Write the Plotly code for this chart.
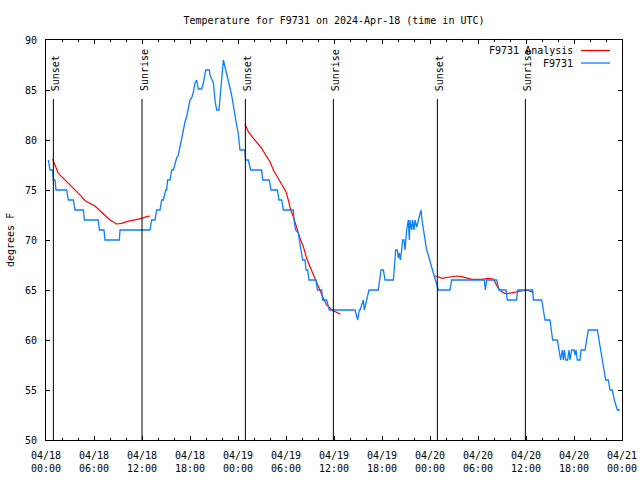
import plotly.graph_objects as go

# ---- data (hours since 2024-04-18 00:00 UTC) ----
obs_hours = [0.29, 0.5, 0.83, 0.92, 1.125, 1.25, 2.58, 2.79, 3.42, 3.625, 4.67, 4.79, 6.54, 6.67, 7.25, 7.375,
             9.17, 9.25, 13.0, 13.2, 13.625, 13.83, 14.25, 14.46, 14.67, 14.96, 15.08, 15.2, 15.5, 15.71, 15.92,
             16.125, 16.33, 16.54, 16.75, 16.96, 17.17, 17.375, 17.58, 17.79, 18.0, 18.21, 18.42, 18.625, 18.83,
             19.04, 19.46, 19.67, 19.875, 19.96, 20.42, 20.5, 20.71, 20.92, 21.125, 21.33, 21.625, 21.75, 21.96,
             22.17, 22.375, 22.58, 22.79, 23.0, 23.2, 23.42, 23.625, 23.83, 24.04, 24.125, 24.25, 24.85, 24.95,
             25.29, 25.58, 26.96, 27.08, 27.92, 28.125, 28.92, 29.125, 29.46, 29.67, 30.92, 31.0, 31.2, 31.54,
             31.67, 31.875, 32.08, 32.375, 32.5, 32.71, 32.875, 33.75, 33.92, 34.46, 34.58, 35.08, 35.42, 38.625,
             38.96, 39.17, 39.25, 39.46, 39.67, 39.79, 39.96, 40.08, 40.375, 41.54, 41.75, 41.875, 42.17, 42.375,
             43.42, 43.625, 43.71, 43.92, 44.04, 44.17, 44.29, 44.46, 44.58, 44.75, 44.875, 45.08, 45.29, 45.42,
             45.5, 45.71, 45.83, 46.0, 46.125, 46.33, 46.54, 46.75, 46.875, 47.0, 47.17, 47.375, 47.58, 47.79,
             48.0, 48.2, 48.42, 48.7, 49.05, 50.5, 50.71, 54.79, 54.92, 55.08, 56.33, 56.625, 57.5, 57.67, 58.83,
             58.96, 60.83, 60.92, 61.96, 62.17, 62.375, 63.0, 63.2, 63.33, 63.92, 64.125, 64.33, 64.54, 64.67,
             64.79, 64.96, 65.2, 65.375, 65.5, 65.71, 66.0, 66.125, 66.25, 66.42, 66.75, 66.875, 67.375, 67.58,
             67.79, 68.92, 69.125, 69.33, 69.54, 69.75, 69.96, 70.29, 70.5, 70.79, 71.04, 71.42, 71.75]
obs_temps = [78, 77, 77, 76, 76, 75, 75, 74, 74, 73, 73, 72, 72, 71, 71, 70,
             70, 71, 71, 72, 72, 73, 73, 74, 74, 75, 75, 76, 76, 77, 77,
             77.7, 78.2, 78.5, 79.4, 80.3, 81.3, 81.8, 82.3, 83, 84, 84.2, 84.8, 85.7, 86,
             85.1, 85.1, 85.7, 86.5, 87, 87, 86.5, 86.1, 85.7, 84, 83, 83, 84, 86.3,
             88, 87.3, 86.5, 86, 85.2, 84.5, 83.3, 82.3, 81.5, 80.6, 80, 79, 79, 78,
             78, 77, 77, 76, 76, 75, 75, 74, 74, 73, 73, 72, 71, 70.7,
             70, 69, 68, 68, 67, 67, 66, 66, 65, 65, 64, 64, 63, 63,
             62, 63, 63, 63.5, 64, 63, 63.5, 64, 65, 65, 66, 67, 67, 66,
             66, 68, 69, 69, 68.2, 68.7, 68, 69, 70, 70, 69, 71, 72, 70,
             72, 71, 72, 71, 72, 71.3, 72, 72.7, 73, 72, 71, 70, 69, 68.5,
             68, 67.3, 66.7, 66, 65, 65, 66, 66, 65, 66, 66, 65, 65, 64, 64,
             65, 65, 64, 64, 63, 62, 62, 61, 60, 60, 59, 58, 59, 58,
             59, 58, 58, 59, 58, 59, 59, 58.5, 59, 58, 58, 59, 59, 60,
             61, 61, 60, 59, 58, 57, 56, 56, 55, 55, 54, 53, 53]

ana_hours = [0.83, 1.125, 1.54, 1.96, 2.375, 2.79, 3.21, 3.625, 4.04, 4.46, 4.875, 5.5, 6.125, 6.75, 7.375,
             8.0, 8.83, 9.46, 10.08, 10.71, 11.33, 11.96, 12.58, 13.0, None,
             24.875, 25.29, 25.83, 26.33, 26.96, 27.58, 28.0, 28.42, 28.83, 29.25, 29.67, 30.0, 30.29, 30.58,
             30.92, 31.33, 31.75, 32.17, 32.58, 33.0, 33.42, 33.83, 34.25, 34.67, 35.08, 35.5, 35.92, 36.33,
             36.83, None,
             48.625, 49.04, 49.46, 50.29, 51.33, 51.96, 52.58, 53.21, 54.46, 55.29, 55.92, 56.25, 56.54, 56.96,
             57.375, 57.79, 58.21, 58.83, 59.46, 60.08, 60.71, 60.92]
ana_temps = [78.07, 77.5, 76.67, 76.33, 76.0, 75.67, 75.4, 75.0, 74.73, 74.33, 73.93, 73.67, 73.4, 72.93, 72.5,
             72.0, 71.6, 71.67, 71.83, 71.93, 72.07, 72.17, 72.33, 72.4, None,
             81.6, 80.83, 80.27, 79.73, 79.17, 78.33, 77.83, 77.0, 76.4, 75.83, 75.17, 74.83, 74.0, 73.0,
             72.33, 71.17, 70.17, 69.33, 68.17, 67.33, 66.5, 65.67, 64.83, 64.17, 63.5, 63.17, 62.9, 62.77,
             62.57, None,
             66.4, 66.33, 66.17, 66.27, 66.4, 66.33, 66.17, 66.07, 66.07, 66.17, 66.1, 65.67, 65.17, 64.83,
             64.67, 64.67, 64.73, 64.83, 64.93, 65.0, 64.83, 64.67]

event_hours = [0.92, 12.0, 24.92, 35.92, 48.92, 59.92]
event_labels = ["Sunset", "Sunrise", "Sunset", "Sunrise", "Sunset", "Sunrise"]

tick_hours = [0, 6, 12, 18, 24, 30, 36, 42, 48, 54, 60, 66, 72]
tick_labels = ["04/18<br>00:00", "04/18<br>06:00", "04/18<br>12:00", "04/18<br>18:00",
               "04/19<br>00:00", "04/19<br>06:00", "04/19<br>12:00", "04/19<br>18:00",
               "04/20<br>00:00", "04/20<br>06:00", "04/20<br>12:00", "04/20<br>18:00",
               "04/21<br>00:00"]

series_names = ["F9731 Analysis", "F9731"]
series_colors = ["#ff0000", "#0a80ff"]

FONT = dict(family="DejaVu Sans Mono", size=10, color="black")

fig = go.Figure()
fig.add_trace(go.Scatter(x=ana_hours, y=ana_temps, mode="lines", name=series_names[0],
                         line=dict(color=series_colors[0], width=1.2), connectgaps=False,
                         showlegend=False))
fig.add_trace(go.Scatter(x=obs_hours, y=obs_temps, mode="lines", name=series_names[1],
                         line=dict(color=series_colors[1], width=1.3), showlegend=False))

# sunrise / sunset markers
for h, lab in zip(event_hours, event_labels):
    fig.add_shape(type="line", xref="x", yref="y", x0=h, x1=h, y0=50, y1=84.1,
                  line=dict(color="black", width=1))
    fig.add_annotation(x=h, y=84.8, xref="x", yref="y", text=lab, textangle=-90,
                       showarrow=False, xanchor="center", yanchor="bottom", xshift=2,
                       font=FONT, borderpad=0)

# manual legend (text left of sample line, like gnuplot)
L, W, T, H = 46, 576, 40, 400
def px(xp):
    return (xp - L) / W
def py(yp):
    return (T + H - yp) / H
for i, (nm, col) in enumerate(zip(series_names, series_colors)):
    yrow = 50.5 + i * 12.5
    fig.add_annotation(x=px(574), y=py(yrow), xref="paper", yref="paper", text=nm,
                       showarrow=False, xanchor="right", yanchor="middle", font=FONT, borderpad=0)
    fig.add_shape(type="line", xref="paper", yref="paper", x0=px(581), x1=px(610),
                  y0=py(yrow), y1=py(yrow), line=dict(color=col, width=1.3))

fig.add_annotation(x=px(10), y=0.5, xref="paper", yref="paper", text="degrees F", textangle=-90,
                   showarrow=False, xanchor="center", yanchor="middle", font=FONT)

fig.update_layout(
    width=640, height=480, autosize=False,
    margin=dict(l=L, r=640 - L - W, t=T, b=480 - T - H, autoexpand=False),
    paper_bgcolor="white", plot_bgcolor="white",
    font=FONT,
    title=dict(text="Temperature for F9731 on 2024-Apr-18 (time in UTC)", x=0.5, xref="paper",
               y=1 - 20 / 480, yanchor="middle", font=FONT, automargin=False),
    showlegend=False,
)
fig.update_xaxes(range=[0, 72], tickmode="array", tickvals=tick_hours, ticktext=tick_labels,
                 showgrid=False, zeroline=False, showline=True, linecolor="black", linewidth=1,
                 mirror="ticks", ticks="inside", ticklen=4, tickcolor="black", ticklabelstandoff=6,
                 minor=dict(dtick=2, tick0=0, ticks="inside", ticklen=2, tickcolor="black", showgrid=False),
                 tickfont=FONT, automargin=False)
fig.update_yaxes(range=[50, 90], dtick=5, tick0=50, showgrid=False, zeroline=False, showline=True,
                 linecolor="black", linewidth=1, mirror="ticks", ticks="inside", ticklen=4,
                 tickcolor="black", ticklabelstandoff=6, tickfont=FONT, automargin=False)

fig.write_html("out.html", config={"displayModeBar": False},
               post_script="document.body.style.margin='0';document.body.style.padding='0';")
